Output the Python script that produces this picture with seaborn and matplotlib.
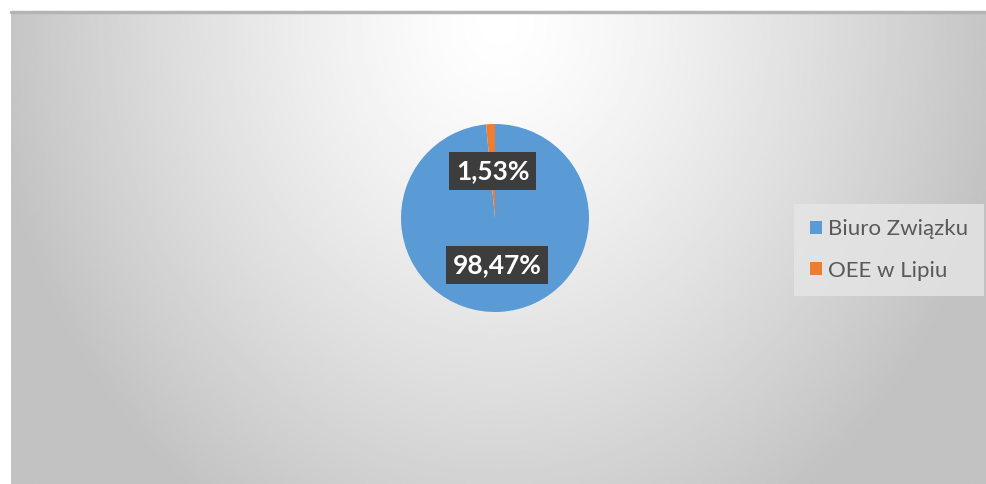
import numpy as np
import matplotlib
matplotlib.use("Agg")
import matplotlib.pyplot as plt
import seaborn as sns

labels = ["Biuro Związku", "OEE w Lipiu"]
values = [98.47, 1.53]
colors = ["#5b9bd5", "#ed7d31"]

sns.set_style("white")
plt.rcParams['font.family'] = ['Lato', 'DejaVu Sans']

W, H = 986, 484
fig = plt.figure(figsize=(W / 100, H / 100), dpi=100)
fig.patch.set_facecolor("white")

# radial gradient background of the chart area
bg = fig.add_axes([11 / W, 0, (W - 11) / W, (H - 12) / H])
gx, gy = np.meshgrid(np.linspace(-1, 1, 400), np.linspace(0, 1, 200))
d = np.sqrt((gx / 1.05) ** 2 + ((gy - 0.98) / 1.25) ** 2)
d = np.clip(d, 0, 1)
shade = 1.0 - 0.24 * d ** 1.3
bg.imshow(shade, cmap="gray", vmin=0, vmax=1, extent=[0, 1, 0, 1],
          origin="lower", aspect="auto", interpolation="bilinear")
bg.plot([0, 1], [1, 1], color="#b4b4b4", lw=2.5, clip_on=False)
bg.set_axis_off()

# pie
cx, cy, r = 495, H - 218, 94
ax = fig.add_axes([(cx - r) / W, (cy - r) / H, 2 * r / W, 2 * r / H])
wedges, _, autotexts = ax.pie(
    values, colors=colors, startangle=90, counterclock=False,
    autopct=lambda p: f"{p:.2f}%".replace(".", ","), pctdistance=0.5,
    wedgeprops=dict(linewidth=0), radius=1.0)
for t in autotexts:
    t.set_color("white")
    t.set_fontsize(19)
    t.set_fontweight("bold")
    t.set_bbox(dict(boxstyle="square,pad=0.25", facecolor="#3d3d3d",
                    edgecolor="none"))
ax.set_xlim(-1, 1)
ax.set_ylim(-1, 1)
ax.set_aspect("equal")

leg = fig.legend(wedges, labels, loc="center left",
                 bbox_to_anchor=(794 / W, (H - 250) / H),
                 frameon=True, fontsize=16, handlelength=0.55,
                 handleheight=0.55, handletextpad=0.3, labelspacing=0.95,
                 borderpad=0.7, borderaxespad=0, fancybox=False)
leg.get_frame().set_facecolor("#e6e6e6")
leg.get_frame().set_edgecolor("none")
for t in leg.get_texts():
    t.set_color("#595959")

fig.savefig("out.png", dpi=100)
